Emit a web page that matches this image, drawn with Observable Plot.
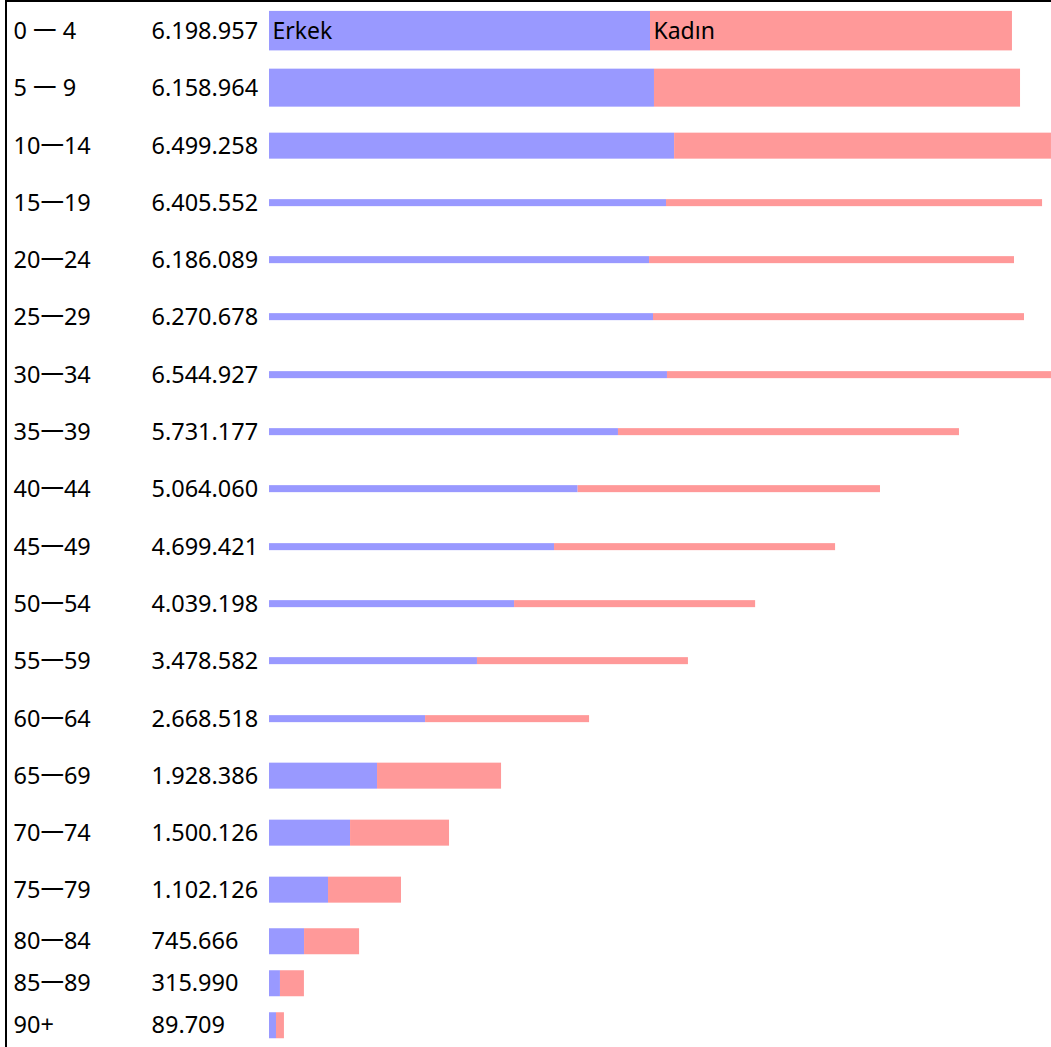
<!DOCTYPE html>
<html><head><meta charset="utf-8">
<script src="https://cdn.jsdelivr.net/npm/d3@7"></script>
<script src="https://cdn.jsdelivr.net/npm/@observablehq/plot@0.6"></script>
<style>
html,body{margin:0;padding:0;background:#fff;overflow:hidden;}
#wrap{position:relative;width:1051px;height:1047px;overflow:hidden;}
#rows{position:absolute;left:0;top:2px;width:1051px;}
#rows svg{display:block;}
.bl{position:absolute;left:5px;top:0;width:2px;height:1047px;background:#000;}
.bt{position:absolute;left:5px;top:0;width:1046px;height:2px;background:#000;}
</style></head><body>
<div id="wrap"><div id="rows"></div><div class="bl"></div><div class="bt"></div></div>
<script>
// ---- data ----
const ages = ["0 一 4","5 一 9","10一14","15一19","20一24","25一29","30一34","35一39","40一44","45一49","50一54","55一59","60一64","65一69","70一74","75一79","80一84","85一89","90+"];
const totals = ["6.198.957","6.158.964","6.499.258","6.405.552","6.186.089","6.270.678","6.544.927","5.731.177","5.064.060","4.699.421","4.039.198","3.478.582","2.668.518","1.928.386","1.500.126","1.102.126","745.666","315.990","89.709"];
const male = [3164000,3197000,3364000,3297000,3156000,3189000,3305000,2898000,2563000,2367000,2035000,1727000,1296000,897000,673000,490000,291000,91000,58000];
const female = [3006000,3040000,3135000,3123000,3031000,3081000,3240000,2832000,2511000,2334000,2002000,1752000,1362000,1030000,822000,606000,457000,199000,66000];
const sexes = ["Erkek","Kadın"];

// ---- styling ----
const rowH = [57.3,57.3,57.3,57.3,57.3,57.3,57.3,57.3,57.3,57.3,57.3,57.3,57.3,57.3,57.3,57.3,44.5,40.5,42.5];
const barT = [39.5,38,26,7,7,7,7,7,7,7,7,7,7,26,26,26,26,26,26];
const XMAX = 6494000;
const FONT = "'Noto Sans','Noto Sans CJK JP',sans-serif";
const FS = 23.5;

const container = document.getElementById("rows");
ages.forEach((age, i) => {
  const h = rowH[i], inset = (h - barT[i]) / 2;
  const d = [{sex: sexes[0], value: male[i]}, {sex: sexes[1], value: female[i]}];
  const marks = [
    Plot.barX(d, {x: "value", fill: "sex", insetTop: inset, insetBottom: inset, clip: true}),
    Plot.text([age], {text: t => t, frameAnchor: "left", dx: 13, fontSize: FS, fill: "#000"}),
    Plot.text([totals[i]], {text: t => t, frameAnchor: "left", dx: 151, fontSize: FS, fill: "#000"})
  ];
  if (i === 0) {
    marks.push(Plot.text(d, Plot.stackX1({x: "value", text: "sex", textAnchor: "start", dx: 3, fontSize: 23, fill: "#000"})));
  }
  const p = Plot.plot({
    width: 1051, height: h,
    marginLeft: 0, marginRight: 0, marginTop: 0, marginBottom: 0,
    x: {domain: [0, XMAX], range: [269, 1051], axis: null},
    color: {domain: sexes, range: ["#9999ff", "#ff9999"]},
    style: {fontFamily: FONT, background: "transparent", overflow: "hidden"},
    marks
  });
  container.appendChild(p);
});
</script>
</body></html>
